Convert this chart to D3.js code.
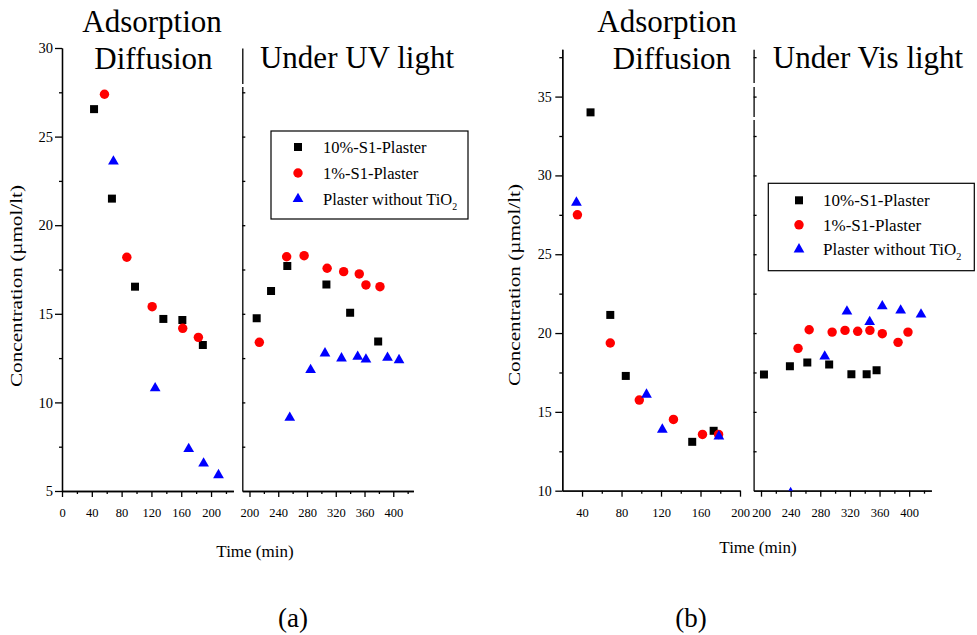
<!DOCTYPE html>
<html lang="en">
<head>
<meta charset="utf-8">
<title>Concentration vs time</title>
<script src="https://cdn.jsdelivr.net/npm/d3@7"></script>
<style>
  body { margin: 0; background: #fff; }
  text { font-family: "Liberation Serif", "Times New Roman", serif; fill: #000; }
  .axis path, .axis line { stroke: #000; stroke-width: 1.3px; }
</style>
</head>
<body>
<svg id="chart" width="977" height="635"></svg>
<script>
// series names (legend)
var seriesNames = ["10%-S1-Plaster", "1%-S1-Plaster", "Plaster without TiO"];
var seriesColors = ["#000000", "#ff0000", "#0000ff"];

// panel (a) - adsorption / diffusion, [time, concentration]
var aAds10 = [[43,26.55],[67,21.5],[98,16.53],[136,14.71],[161.5,14.65],[189,13.24]];
var aAds1  = [[57,27.39],[87,18.19],[121,15.4],[162,14.18],[183,13.67]];
var aAdsPl = [[69,23.6],[125,10.8],[170,7.37],[190,6.56],[210,5.9]];
// panel (a) - under UV light
var aUv10 = [[210,14.75],[230,16.29],[252.6,17.7],[307,16.66],[340,15.06],[379,13.43]];
var aUv1  = [[213.7,13.39],[251.7,18.22],[276,18.28],[308,17.57],[331,17.38],[352.7,17.25],[362,16.63],[381.5,16.53]];
var aUvPl = [[256,9.14],[285,11.83],[305,12.77],[328,12.49],[350.5,12.58],[362,12.43],[392,12.52],[408,12.39]];

// panel (b) - adsorption / diffusion
var bAds10 = [[48.6,34.0],[68.6,21.15],[84.3,17.28],[151.6,13.1],[173.3,13.8]];
var bAds1  = [[35.3,27.5],[68.6,19.37],[98,15.75],[132.6,14.52],[162,13.57],[178.3,13.57]];
var bAdsPl = [[34.3,28.28],[105.3,16.1],[121.3,13.88],[178.6,13.45]];
// panel (b) - under Vis light
var bVis10 = [[204,17.37],[239,17.89],[262.5,18.13],[292,18.0],[322,17.39],[342.6,17.39],[356,17.64]];
var bVis1  = [[250,19.03],[265,20.21],[296,20.06],[313.4,20.17],[330.5,20.11],[347,20.17],[363.7,19.96],[385,19.41],[398.4,20.06]];
var bVisPl = [[240,9.85],[286,18.52],[316,21.37],[346.7,20.7],[363.7,21.71],[388.5,21.44],[416,21.18]];

// ticks
var aYMajor = [5,10,15,20,25,30];
var aYMinor = [7.5,12.5,17.5,22.5,27.5];
var aYInner = [7.5,10,12.5,15,17.5,20,22.5,25,27.5];
var bYMajor = [10,15,20,25,30,35];
var bYMinor = [12.5,17.5,22.5,27.5,32.5,37.5];
var bYInner = [12.5,15,17.5,20,22.5,25,27.5,30,32.5,35,37.5];
var aXLeftMajor = [0,40,80,120,160,200];
var aXLeftMinor = [20,60,100,140,180,220];
var bXLeftMajor = [40,80,120,160,200];
var bXLeftMinor = [60,100,140,180];
var xRightMajor = [200,240,280,320,360,400];
var xRightMinor = [220,260,300,340,380,420];

var svg = d3.select("#chart");

var symbols = [d3.symbolSquare, d3.symbolCircle, d3.symbolTriangle];
var symSizes = [64, 70, 50];

function styleTicks(g, fs) {
  g.attr("font-family", null).attr("font-size", null);
  g.selectAll("text").style("font-size", fs + "px");
}

function drawPanel(p) {
  var xL = d3.scaleLinear().domain(p.xLDom).range(p.xLRange);
  var xR = d3.scaleLinear().domain(p.xRDom).range(p.xRRange);
  var y = d3.scaleLinear().domain(p.yDom).range([p.bottom, p.top]);

  // left y axis
  var gy = svg.append("g").attr("class", "axis").attr("transform", "translate(" + p.xLRange[0] + ",0)")
    .call(d3.axisLeft(y).tickValues(p.yMajor).tickSize(7).tickSizeOuter(0).tickPadding(p.yPad));
  styleTicks(gy, p.yFont);
  svg.append("g").attr("class", "axis").attr("transform", "translate(" + p.xLRange[0] + ",0)")
    .call(d3.axisLeft(y).tickValues(p.yMinor).tickSize(3).tickSizeOuter(0).tickFormat(""));

  // left x axis
  var gx = svg.append("g").attr("class", "axis").attr("transform", "translate(0," + p.bottom + ")")
    .call(d3.axisBottom(xL).tickValues(p.xLMajor).tickSize(6).tickSizeOuter(0).tickPadding(11));
  styleTicks(gx, p.xFont);
  svg.append("g").attr("class", "axis").attr("transform", "translate(0," + p.bottom + ")")
    .call(d3.axisBottom(xL).tickValues(p.xLMinor).tickSize(3).tickSizeOuter(0).tickFormat(""));

  // right y axis (no labels, inner ticks)
  svg.append("g").attr("class", "axis").attr("transform", "translate(" + p.xRRange[0] + ",0)")
    .call(d3.axisRight(y).tickValues(p.yInner).tickSize(3).tickSizeOuter(0).tickFormat(""));
  p.gaps.forEach(function(gp) {
    svg.append("rect").attr("x", p.xRRange[0] - 2).attr("y", gp[0]).attr("width", 4).attr("height", gp[1] - gp[0]).attr("fill", "#fff");
  });

  // right x axis
  var gx2 = svg.append("g").attr("class", "axis").attr("transform", "translate(0," + p.bottom + ")")
    .call(d3.axisBottom(xR).tickValues(xRightMajor).tickSize(6).tickSizeOuter(0).tickPadding(11));
  styleTicks(gx2, p.xFont);
  svg.append("g").attr("class", "axis").attr("transform", "translate(0," + p.bottom + ")")
    .call(d3.axisBottom(xR).tickValues(xRightMinor).tickSize(3).tickSizeOuter(0).tickFormat(""));

  // clip for right stage
  svg.append("clipPath").attr("id", p.id + "clip").append("rect")
    .attr("x", p.xRRange[0]).attr("y", p.top - 20)
    .attr("width", p.xRRange[1] - p.xRRange[0]).attr("height", p.bottom - p.top + 20);

  // markers
  [[p.left, xL, null], [p.right, xR, p.id + "clip"]].forEach(function(part) {
    var g = svg.append("g");
    if (part[2]) g.attr("clip-path", "url(#" + part[2] + ")");
    part[0].forEach(function(series, i) {
      g.selectAll(null).data(series).enter().append("path")
        .attr("d", d3.symbol().type(symbols[i]).size(symSizes[i]))
        .attr("transform", function(d) { return "translate(" + part[1](d[0]) + "," + y(d[1]) + ")"; })
        .attr("fill", seriesColors[i]);
    });
  });

  // titles
  svg.append("text").attr("x", p.t1x).attr("y", 32).attr("text-anchor", "middle").style("font-size", "31px").text("Adsorption");
  svg.append("text").attr("x", p.t2x).attr("y", 69).attr("text-anchor", "middle").style("font-size", "31px").text("Diffusion");
  svg.append("text").attr("x", p.t3x).attr("y", 68).attr("text-anchor", "middle").style("font-size", "31px").text(p.stage);

  // axis labels
  svg.append("text").attr("transform", "translate(" + p.ylx + "," + p.yly + ") rotate(-90)")
    .attr("text-anchor", "middle").attr("textLength", 202).attr("lengthAdjust", "spacingAndGlyphs")
    .style("font-size", "17px").text("Concentration (\u00b5mol/lt)");
  svg.append("text").attr("x", p.xlx).attr("y", p.xly).attr("text-anchor", "middle")
    .style("font-size", "17px").text("Time (min)");
  svg.append("text").attr("x", p.capx).attr("y", 627).attr("text-anchor", "middle")
    .style("font-size", "27px").text(p.cap);

  // legend
  var lg = svg.append("g");
  lg.append("rect").attr("x", p.lg[0]).attr("y", p.lg[1]).attr("width", p.lg[2]).attr("height", p.lg[3])
    .attr("fill", "#fff").attr("stroke", "#000").attr("stroke-width", 1.2);
  seriesNames.forEach(function(name, i) {
    var cy = p.lg[1] + p.lgRow0 + i * p.lgStep;
    lg.append("path").attr("d", d3.symbol().type(symbols[i]).size(symSizes[i]))
      .attr("transform", "translate(" + p.lgMx + "," + cy + ")").attr("fill", seriesColors[i]);
    var t = lg.append("text").attr("x", p.lgTx).attr("y", cy + 6).style("font-size", p.lgFont + "px").text(name);
    if (i === 2) {
      t.append("tspan").attr("dy", 5).style("font-size", (p.lgFont * 0.6) + "px").text("2");
    }
  });
}

drawPanel({
  id: "a", xLDom: [0, 230], xLRange: [62, 233.4], xRDom: [190, 428], xRRange: [242.3, 413.4],
  yDom: [5, 30], top: 48, bottom: 491, yMajor: aYMajor, yMinor: aYMinor, yInner: aYInner,
  xLMajor: aXLeftMajor, xLMinor: aXLeftMinor, yPad: 2, yFont: 14.5, xFont: 12.5,
  left: [aAds10, aAds1, aAdsPl], right: [aUv10, aUv1, aUvPl], gaps: [[84, 87]],
  t1x: 152, t2x: 153.5, t3x: 357, stage: "Under UV light",
  ylx: 22, yly: 286, xlx: 255, xly: 557, cap: "(a)", capx: 293,
  lg: [271, 131, 197, 88], lgRow0: 16, lgStep: 26, lgMx: 298, lgTx: 323, lgFont: 16.5
});

drawPanel({
  id: "b", xLDom: [20, 200], xLRange: [562.3, 740], xRDom: [190, 430], xRRange: [753.6, 931.4],
  yDom: [10, 38], top: 49.3, bottom: 490.7, yMajor: bYMajor, yMinor: bYMinor, yInner: bYInner,
  xLMajor: bXLeftMajor, xLMinor: bXLeftMinor, yPad: 3.5, yFont: 14, xFont: 12.5,
  left: [bAds10, bAds1, bAdsPl], right: [bVis10, bVis1, bVisPl], gaps: [[83, 87], [117, 120]],
  t1x: 667, t2x: 672, t3x: 868, stage: "Under Vis light",
  ylx: 520, yly: 285, xlx: 758, xly: 553, cap: "(b)", capx: 691,
  lg: [768.3, 183.3, 206, 87.4], lgRow0: 17, lgStep: 24.5, lgMx: 799, lgTx: 823, lgFont: 17
});
</script>
</body>
</html>
